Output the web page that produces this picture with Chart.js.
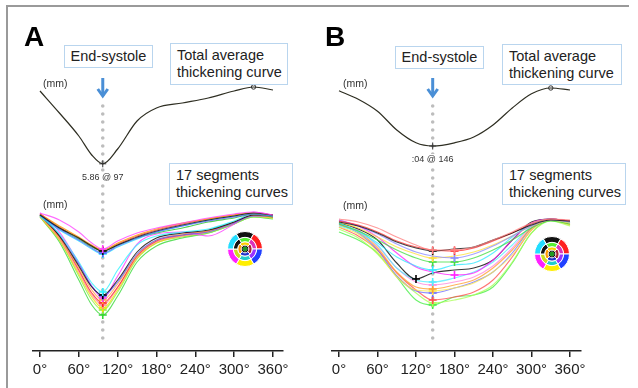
<!DOCTYPE html>
<html lang="en">
<head>
<meta charset="UTF-8" />
<title>Thickening curves</title>
<script src="https://cdn.jsdelivr.net/npm/chart.js"></script>
<style>
  body { margin: 0; width: 638px; height: 388px; background: #fff; position: relative; overflow: hidden;
         font-family: "Liberation Sans", Arial, sans-serif; }
  canvas.panel { position: absolute; top: 0; }
  .frame-top { position: absolute; left: 6px; top: 5px; width: 623px; height: 2px; background: #9a9a9a; }
  .frame-left { position: absolute; left: 6px; top: 5px; width: 2px; height: 383px; background: #9a9a9a; }
  .letter { position: absolute; font-weight: bold; font-size: 28px; line-height: 28px; color: #000; }
  .box { position: absolute; border: 1px solid #b9d5ee; background: #fff; font-size: 14.5px; line-height: 17px;
         color: #222; padding: 3px 6px; box-sizing: border-box; white-space: nowrap; }
  .box.single { display: flex; align-items: center; justify-content: center; padding: 0; }
  .unit { position: absolute; font-size: 10.5px; line-height: 12px; color: #333; }
  canvas.bull { position: absolute; }
</style>
</head>
<body>
<div class="frame-top"></div>
<div class="frame-left"></div>

<canvas id="chartA" class="panel" width="318" height="388" style="left:0"></canvas>
<canvas id="chartB" class="panel" width="320" height="388" style="left:318px"></canvas>

<div class="letter" style="left:24px; top:23px">A</div>
<div class="letter" style="left:325px; top:23px">B</div>

<div class="box single" style="left:64px; top:45px; width:89px; height:23px">End-systole</div>
<div class="box" style="left:170px; top:43px; width:118px; height:42px">Total average<br>thickening curve</div>
<div class="box" style="left:169px; top:163px; width:124px; height:42px">17 segments<br>thickening curves</div>

<div class="box single" style="left:395px; top:46px; width:89px; height:23px">End-systole</div>
<div class="box" style="left:502px; top:44px; width:120px; height:41px">Total average<br>thickening curve</div>
<div class="box" style="left:502px; top:163px; width:124px; height:42px">17 segments<br>thickening curves</div>

<div class="unit" style="left:43px; top:77px">(mm)</div>
<div class="unit" style="left:43px; top:198px">(mm)</div>
<div class="unit" style="left:343px; top:77px">(mm)</div>
<div class="unit" style="left:343px; top:199px">(mm)</div>

<canvas id="bullA" class="bull" width="36" height="36" style="left:227px; top:231px"></canvas>
<canvas id="bullB" class="bull" width="36" height="36" style="left:534px; top:236px"></canvas>

<script>
  // x axis (degrees of the cardiac cycle)
  const xTicks = [0, 60, 120, 180, 240, 300, 360];

  // Panel A
  const anglesA = [0, 30, 60, 80, 97, 120, 150, 180, 220, 260, 300, 330, 360];
  const averageA = [9.50, 8.40, 7.25, 6.30, 5.86, 6.60, 8.00, 8.65, 8.90, 9.15, 9.50, 9.70, 9.55];
  const esAngleA = 97;
  const esLabelA = '5.86 @ 97';

  const segA1 = [10.00, 9.65, 9.05, 8.50, 8.20, 8.60, 9.00, 9.25, 9.50, 9.75, 9.95, 10.05, 9.90];
  const segA2 = [9.90, 9.25, 8.75, 8.35, 8.10, 8.40, 8.80, 9.10, 9.40, 9.65, 9.85, 10.00, 9.90];
  const segA3 = [9.90, 9.20, 8.65, 8.25, 8.00, 8.35, 8.75, 9.05, 9.35, 9.60, 9.80, 9.95, 9.85];
  const segA4 = [9.95, 9.35, 8.80, 8.40, 8.15, 8.50, 8.90, 9.20, 9.50, 9.70, 9.90, 10.00, 9.90];
  const segA5 = [9.85, 9.15, 8.60, 8.20, 7.95, 8.30, 8.70, 9.05, 9.35, 9.65, 9.85, 10.00, 9.85];
  const segA6 = [9.90, 9.25, 8.70, 8.30, 8.10, 8.40, 8.75, 9.00, 9.25, 9.55, 9.75, 9.95, 9.80];
  const segA7 = [9.95, 9.30, 8.75, 8.35, 8.15, 8.45, 8.85, 9.15, 9.45, 9.70, 9.90, 10.00, 9.85];
  const segA8 = [9.85, 8.95, 7.55, 6.50, 6.05, 7.15, 8.40, 8.85, 9.05, 9.20, 9.60, 9.95, 9.85];
  const segA9 = [9.90, 8.85, 7.35, 6.30, 5.90, 6.65, 8.05, 8.75, 9.00, 9.15, 9.55, 9.90, 9.90];
  const segA10 = [9.95, 8.90, 7.45, 6.35, 5.85, 6.55, 7.95, 8.65, 8.90, 9.05, 9.50, 9.85, 9.85];
  const segA11 = [10.00, 9.05, 7.50, 6.35, 5.75, 6.85, 8.45, 8.95, 9.05, 8.85, 9.45, 10.05, 9.90];
  const segA12 = [9.85, 8.75, 7.25, 6.15, 5.65, 6.45, 7.90, 8.65, 8.95, 9.10, 9.55, 9.90, 9.85];
  const segA13 = [9.90, 8.80, 7.15, 6.00, 5.50, 6.30, 7.85, 8.60, 8.90, 9.10, 9.55, 9.90, 9.80];
  const segA14 = [9.85, 8.70, 7.05, 5.90, 5.40, 6.25, 7.80, 8.55, 8.85, 9.05, 9.50, 9.85, 9.80];
  const segA15 = [9.80, 8.65, 6.95, 5.80, 5.25, 6.15, 7.75, 8.50, 8.85, 9.05, 9.50, 9.85, 9.75];
  const segA16 = [9.85, 8.65, 6.85, 5.65, 5.15, 6.05, 7.70, 8.50, 8.80, 9.00, 9.45, 9.80, 9.75];
  const segA17 = [9.80, 8.55, 6.65, 5.40, 4.90, 5.85, 7.55, 8.35, 8.75, 9.00, 9.45, 9.80, 9.70];

  // Panel B
  const anglesB = [0, 30, 60, 90, 120, 146, 180, 210, 240, 270, 300, 330, 360];
  const averageB = [9.80, 9.38, 8.78, 7.84, 7.20, 7.04, 7.20, 7.49, 8.09, 8.94, 9.65, 9.94, 9.84];
  const esAngleB = 146;
  const esLabelB = ':04 @ 146';

  const segB1 = [9.70, 9.55, 9.25, 8.80, 8.40, 8.15, 8.15, 8.30, 8.65, 9.05, 9.50, 9.70, 9.65];
  const segB2 = [9.55, 9.35, 9.00, 8.55, 8.25, 8.10, 8.20, 8.30, 8.65, 9.00, 9.40, 9.65, 9.60];
  const segB3 = [9.60, 9.40, 9.05, 8.60, 8.30, 8.15, 8.10, 8.25, 8.60, 9.00, 9.45, 9.70, 9.60];
  const segB4 = [9.65, 9.35, 8.95, 8.45, 8.05, 7.85, 7.75, 7.95, 8.35, 8.85, 9.35, 9.65, 9.55];
  const segB5 = [9.55, 9.25, 8.80, 8.30, 7.95, 7.75, 7.85, 8.05, 8.40, 8.85, 9.35, 9.65, 9.50];
  const segB6 = [9.45, 9.10, 8.65, 8.15, 7.75, 7.55, 7.55, 7.75, 8.15, 8.65, 9.25, 9.60, 9.45];
  const segB7 = [9.50, 9.10, 8.50, 7.80, 7.35, 7.15, 7.40, 7.50, 8.00, 8.80, 9.45, 9.70, 9.55];
  const segB8 = [9.65, 9.35, 8.80, 8.00, 7.30, 7.05, 6.90, 7.00, 7.65, 8.65, 9.50, 9.70, 9.60];
  const segB9 = [9.50, 9.20, 8.65, 7.50, 6.70, 7.00, 7.15, 7.25, 7.65, 8.65, 9.55, 9.70, 9.60];
  const segB10 = [9.35, 9.05, 8.40, 7.25, 6.65, 6.55, 6.75, 7.05, 7.55, 8.40, 9.35, 9.65, 9.50];
  const segB11 = [9.40, 9.05, 8.25, 7.05, 6.30, 6.20, 6.40, 6.65, 7.25, 8.15, 9.25, 9.65, 9.45];
  const segB12 = [9.30, 8.95, 8.05, 6.80, 6.15, 6.10, 6.25, 6.50, 7.05, 7.90, 9.15, 9.65, 9.40];
  const segB13 = [9.45, 9.00, 8.15, 6.85, 6.10, 6.00, 6.25, 6.55, 7.05, 8.00, 9.25, 9.70, 9.50];
  const segB14 = [9.60, 9.15, 8.35, 7.25, 6.55, 6.40, 6.55, 6.80, 7.35, 8.25, 9.35, 9.70, 9.55];
  const segB15 = [9.30, 8.85, 8.15, 7.00, 6.15, 5.65, 5.80, 6.05, 6.65, 7.80, 9.15, 9.65, 9.55];
  const segB16 = [9.20, 8.75, 7.95, 6.85, 6.00, 5.50, 5.65, 5.90, 6.40, 7.55, 9.00, 9.60, 9.35];
  const segB17 = [9.05, 8.65, 8.00, 6.80, 5.65, 5.40, 5.80, 5.90, 6.30, 7.50, 9.00, 9.65, 9.40];

  const colorsA = ['#ff44ff', '#111111', '#5a5aff', '#ff9a00', '#22d8ff', '#22c822', '#ff3838',
                   '#2ef2ff', '#000000', '#6060ff', '#ff33ff', '#ffa040', '#ff2020', '#ff8899',
                   '#f2e000', '#8cf040', '#33d833'];
  const colorsB = ['#ff8080', '#111111', '#ff3030', '#8c8cff', '#ffe040', '#44dd44', '#33e8ff',
                   '#ff22ff', '#000000', '#55eeff', '#ffa030', '#f8e850', '#7070ff', '#ff88dd',
                   '#ff5050', '#aaff55', '#44ee44'];

  // bullseye (17-segment polar map) colours, clockwise from top
  const bullOuter = ['#111111', '#ff2020', '#2040ff', '#ffee00', '#ff22ff', '#22ddff'];
  const bullMiddle = ['#55ee33', '#dd33bb', '#9933ff', '#22cccc', '#ccdd22', '#111111'];
  const bullInner = ['#ffcc00', '#aa2233', '#2233cc', '#ff9900'];

  const segmentsA = [segA1, segA2, segA3, segA4, segA5, segA6, segA7, segA8, segA9,
                     segA10, segA11, segA12, segA13, segA14, segA15, segA16, segA17];
  const segmentsB = [segB1, segB2, segB3, segB4, segB5, segB6, segB7, segB8, segB9,
                     segB10, segB11, segB12, segB13, segB14, segB15, segB16, segB17];

  function toPoints(angles, values) {
    return angles.map((a, i) => ({ x: a, y: values[i] }));
  }

  // radius only at the curve minimum (end-systole cross)
  function minRadius(values, r) {
    const lo = Math.min(...values);
    return values.map(v => (v === lo ? r : 0));
  }

  // dotted end-systole line, arrow and value label
  const esMarks = {
    id: 'esMarks',
    beforeDatasetsDraw(chart, args, opts) {
      const { ctx, chartArea } = chart;
      const x = chart.scales.x.getPixelForValue(opts.angle);
      ctx.save();
      ctx.strokeStyle = '#bdbdbd';
      ctx.lineWidth = 3.6;
      ctx.lineCap = 'round';
      ctx.setLineDash([0, 8]);
      ctx.beginPath();
      ctx.moveTo(x, chartArea.top + 26);
      ctx.lineTo(x, chartArea.bottom - 7);
      ctx.stroke();
      ctx.restore();
    },
    afterDatasetsDraw(chart, args, opts) {
      const { ctx, chartArea } = chart;
      const x = chart.scales.x.getPixelForValue(opts.angle);
      const yMin = chart.scales.y.getPixelForValue(opts.value);
      ctx.save();
      // arrow
      ctx.strokeStyle = '#4a8fd6';
      ctx.lineWidth = 3;
      ctx.beginPath();
      ctx.moveTo(x, chartArea.top - 2);
      ctx.lineTo(x, chartArea.top + 16);
      ctx.stroke();
      ctx.beginPath();
      ctx.moveTo(x - 5, chartArea.top + 9);
      ctx.lineTo(x, chartArea.top + 16);
      ctx.lineTo(x + 5, chartArea.top + 9);
      ctx.stroke();
      // label
      ctx.font = '9px "Liberation Sans", Arial, sans-serif';
      const w = ctx.measureText(opts.label).width;
      ctx.fillStyle = '#fff';
      ctx.fillRect(x - w / 2 - 1, yMin + 8, w + 2, 11);
      ctx.fillStyle = '#333';
      ctx.textAlign = 'center';
      ctx.textBaseline = 'middle';
      ctx.fillText(opts.label, x, yMin + 14);
      ctx.restore();
    }
  };

  function buildPanel(id, cfg) {
    const segSets = cfg.segments.map((vals, i) => ({
      data: toPoints(cfg.angles, vals),
      yAxisID: 'y2',
      borderColor: cfg.colors[i] + 'c8',
      borderWidth: 1.1,
      cubicInterpolationMode: 'monotone',
      pointStyle: 'cross',
      pointRadius: minRadius(vals, 4),
      pointBorderColor: cfg.colors[i],
      pointBorderWidth: 1.6,
      clip: false
    }));
    const hi = Math.max(...cfg.average);
    const lo = Math.min(...cfg.average);
    const avgSet = {
      data: toPoints(cfg.angles, cfg.average),
      yAxisID: 'y',
      borderColor: '#2e2e22',
      borderWidth: 1.2,
      cubicInterpolationMode: 'monotone',
      pointStyle: cfg.average.map(v => (v === lo ? 'cross' : 'circle')),
      pointRadius: cfg.average.map(v => (v === lo ? 3.5 : v === hi ? 2.2 : 0)),
      pointBorderColor: '#333',
      pointBackgroundColor: 'rgba(0,0,0,0)',
      pointBorderWidth: 1,
      clip: false
    };

    return new Chart(document.getElementById(id), {
      type: 'line',
      data: { datasets: [...segSets, avgSet] },
      options: {
        responsive: false,
        animation: false,
        layout: { padding: cfg.padding },
        plugins: {
          legend: { display: false },
          tooltip: { enabled: false },
          esMarks: { angle: cfg.esAngle, value: lo, label: cfg.esLabel }
        },
        scales: {
          x: {
            type: 'linear',
            min: cfg.xMin,
            max: cfg.xMax,
            afterBuildTicks: s => { s.ticks = xTicks.map(v => ({ value: v })); },
            ticks: {
              callback: v => v + '°',
              autoSkip: false,
              maxRotation: 0,
              padding: 4,
              color: '#222',
              font: { size: 15, family: '"Liberation Sans", Arial, sans-serif' }
            },
            grid: { drawOnChartArea: false, drawTicks: true, tickLength: 6, color: '#222', lineWidth: 1.5 },
            border: { display: true, color: '#222', width: 1.5 }
          },
          y: { display: false, min: cfg.yMin, max: cfg.yMax },
          y2: { display: false, min: 3.1, max: 16.65 }
        }
      },
      plugins: [esMarks]
    });
  }

  buildPanel('chartA', {
    angles: anglesA, average: averageA, segments: segmentsA, colors: colorsA,
    esAngle: esAngleA, esLabel: esLabelA,
    xMin: -10.8, xMax: 375.5, yMin: -3.5, yMax: 10.05,
    padding: { left: 33, right: 35, top: 80, bottom: 5 }
  });

  buildPanel('chartB', {
    angles: anglesB, average: averageB, segments: segmentsB, colors: colorsB,
    esAngle: esAngleB, esLabel: esLabelB,
    xMin: -10.9, xMax: 377.1, yMin: -3.21, yMax: 10.34,
    padding: { left: 14, right: 57, top: 80, bottom: 5 }
  });

  function buildBull(id) {
    new Chart(document.getElementById(id), {
      type: 'doughnut',
      data: {
        datasets: [
          { data: bullOuter.map(() => 1), backgroundColor: bullOuter, rotation: -30, weight: 6 },
          { data: bullMiddle.map(() => 1), backgroundColor: bullMiddle, rotation: -30, weight: 4.5 },
          { data: bullInner.map(() => 1), backgroundColor: bullInner, rotation: -45, weight: 3.5 },
          { data: [1], backgroundColor: ['#111111'], borderWidth: 0, weight: 1.5 },
          { data: [1], backgroundColor: ['#1f9a1f'], borderWidth: 0, weight: 2.5 }
        ]
      },
      options: {
        responsive: false,
        animation: false,
        cutout: 0,
        borderColor: '#fff',
        borderWidth: 1,
        plugins: { legend: { display: false }, tooltip: { enabled: false } }
      }
    });
  }
  buildBull('bullA');
  buildBull('bullB');
</script>
</body>
</html>
